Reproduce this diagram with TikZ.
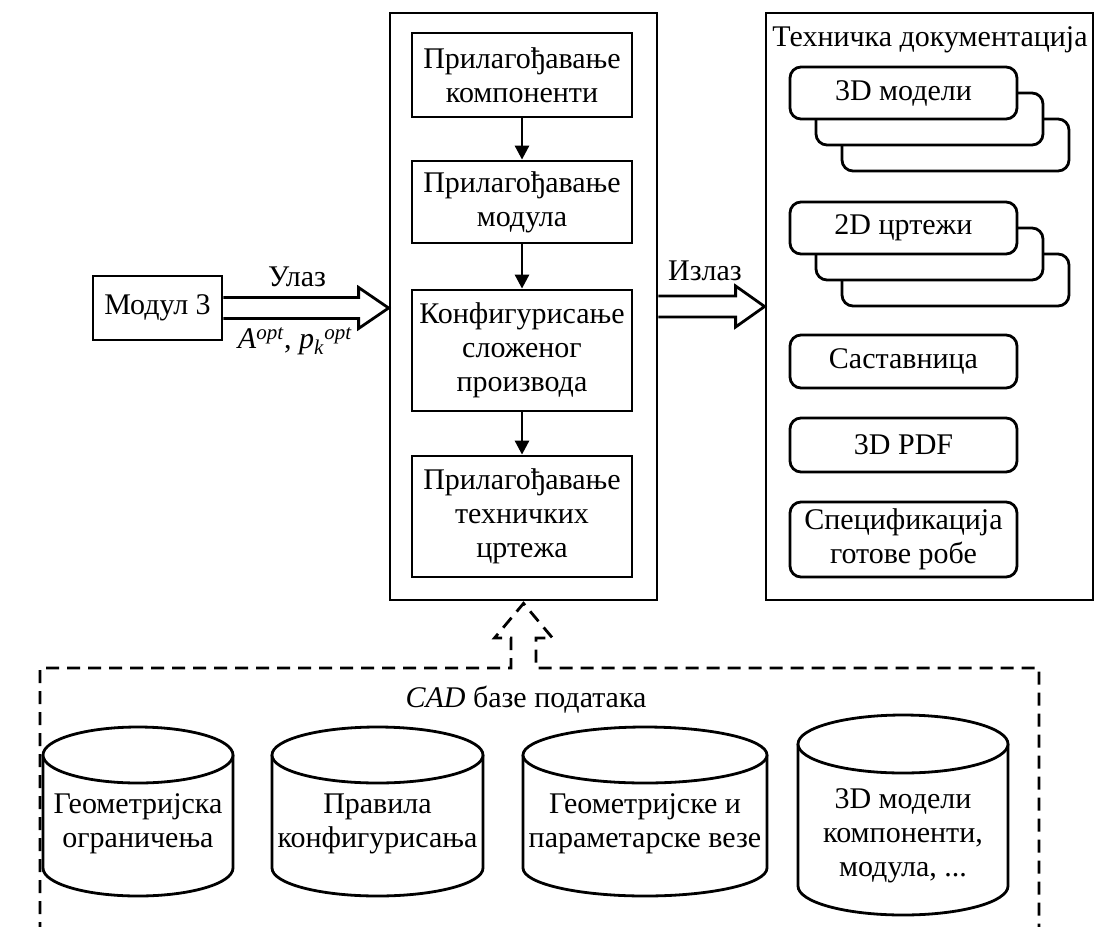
\documentclass[tikz,border=0pt]{standalone}
\usepackage{fontspec}
\setmainfont{Liberation Serif}
\usetikzlibrary{arrows.meta}
\begin{document}
\begin{tikzpicture}[x=1pt,y=-1pt,line width=2.8pt,
  font=\fontsize{30}{34}\selectfont,
  box/.style={draw,fill=white,align=center,inner sep=0pt},
  rbox/.style={draw,fill=white,rounded corners=11pt,align=center,inner sep=0pt,minimum width=227pt},
  lbl/.style={align=center,inner sep=0pt},
  flow/.style={-{Triangle[length=14pt,width=14pt]}},
  hollow/.style={fill=white,line join=miter},
  dbline/.style={dash pattern=on 13pt off 8pt}]
\useasboundingbox (0,0) rectangle (1094,926);
% left module
\node[box,minimum width=129pt,minimum height=64pt] (mod) at (157.5,308) {Модул 3};
% middle process box
\node[box,minimum width=267pt,minimum height=587pt] (proc) at (523.5,306.5) {};
\node[box,minimum width=220pt,minimum height=84pt] (b1) at (522,75) {Прилагођавање\\компоненти};
\node[box,minimum width=220pt,minimum height=82pt] (b2) at (522,202) {Прилагођавање\\модула};
\node[box,minimum width=220pt,minimum height=121pt] (b3) at (522,350.5) {Конфигурисање\\сложеног\\производа};
\node[box,minimum width=220pt,minimum height=121pt] (b4) at (522,516.5) {Прилагођавање\\техничких\\цртежа};
\draw[flow] (b1) -- (b2);
\draw[flow] (b2) -- (b3);
\draw[flow] (b3) -- (b4);
% right documentation box
\node[box,minimum width=327pt,minimum height=587pt] (doc) at (929.5,306.5) {};
\node[lbl] (doctitle) at (930,40) {Техничка документација};
\node[rbox,minimum height=52pt] (m3c) at (955.5,145) {};
\node[rbox,minimum height=52pt] (m3b) at (929.5,119) {};
\node[rbox,minimum height=52pt] (m3a) at (903.5,93) {3D модели};
\node[rbox,minimum height=52pt] (d2c) at (955.5,280) {};
\node[rbox,minimum height=52pt] (d2b) at (929.5,254) {};
\node[rbox,minimum height=52pt] (d2a) at (903.5,228) {2D цртежи};
\node[rbox,minimum height=53pt] (sas) at (903.5,361.5) {Саставница};
\node[rbox,minimum height=54pt] (pdf) at (903.5,445) {3D PDF};
\node[rbox,minimum height=75pt] (spec) at (903.5,539.5) {Спецификација\\готове робе};
% input arrow
\coordinate (inTip) at (proc.west |- mod.east);
\draw[hollow] ([yshift=10.5pt]mod.east) -- ([xshift=-30pt,yshift=10.5pt]inTip) -- ([xshift=-30pt,yshift=20.5pt]inTip) -- (inTip) -- ([xshift=-30pt,yshift=-20.5pt]inTip) -- ([xshift=-30pt,yshift=-10.5pt]inTip) -- ([yshift=-10.5pt]mod.east);
\node[lbl] (ulaz) at (297,277) {Улаз};
\node[lbl] (aopt) at (295,341) {\textit{A}\textsuperscript{\textit{opt}}, \textit{p}\textsubscript{\textit{k}}\textsuperscript{\textit{opt}}};
% output arrow
\coordinate (outTip) at (doc.west |- proc.east);
\draw[hollow] ([yshift=10.5pt]proc.east) -- ([xshift=-29pt,yshift=10.5pt]outTip) -- ([xshift=-29pt,yshift=20.5pt]outTip) -- (outTip) -- ([xshift=-29pt,yshift=-20.5pt]outTip) -- ([xshift=-29pt,yshift=-10.5pt]outTip) -- ([yshift=-10.5pt]proc.east);
\node[lbl] (izlaz) at (705,271) {Излаз};
% dashed database frame with up arrow
\coordinate (dbTip) at ([yshift=-2pt]proc.south);
\draw[dbline] (40,935) -- (40,668) -- ([xshift=-12.5pt]dbTip |- 0,668) -- ([xshift=-12.5pt]dbTip |- 0,638) -- ([xshift=-29pt]dbTip |- 0,638) -- (dbTip) -- ([xshift=29pt]dbTip |- 0,638) -- ([xshift=12.5pt]dbTip |- 0,638) -- ([xshift=12.5pt]dbTip |- 0,668) -- (1039,668) -- (1039,935);
\node[lbl] (cadlbl) at (526,700) {\textit{CAD} базе података};
% cylinders
\draw[fill=white] (43,755) -- (43,868) arc[start angle=180,end angle=360,x radius=95pt,y radius=28pt] -- (233,755);
\draw[fill=white] (138,755) ellipse[x radius=95pt,y radius=28pt];
\node[lbl] (c1) at (138,824) {Геометријска\\ограничења};
\draw[fill=white] (272,755) -- (272,868) arc[start angle=180,end angle=360,x radius=105.5pt,y radius=28pt] -- (483,755);
\draw[fill=white] (377.5,755) ellipse[x radius=105.5pt,y radius=28pt];
\node[lbl] (c2) at (377.5,824) {Правила\\конфигурисања};
\draw[fill=white] (523,755) -- (523,868) arc[start angle=180,end angle=360,x radius=122pt,y radius=28pt] -- (767,755);
\draw[fill=white] (645,755) ellipse[x radius=122pt,y radius=28pt];
\node[lbl] (c3) at (645,824) {Геометријске и\\параметарске везе};
\draw[fill=white] (798,744) -- (798,886) arc[start angle=180,end angle=360,x radius=105pt,y radius=29pt] -- (1008,744);
\draw[fill=white] (903,744) ellipse[x radius=105pt,y radius=29pt];
\node[lbl] (c4) at (903,836) {3D модели\\компоненти,\\модула, ...};
\end{tikzpicture}
\end{document}
